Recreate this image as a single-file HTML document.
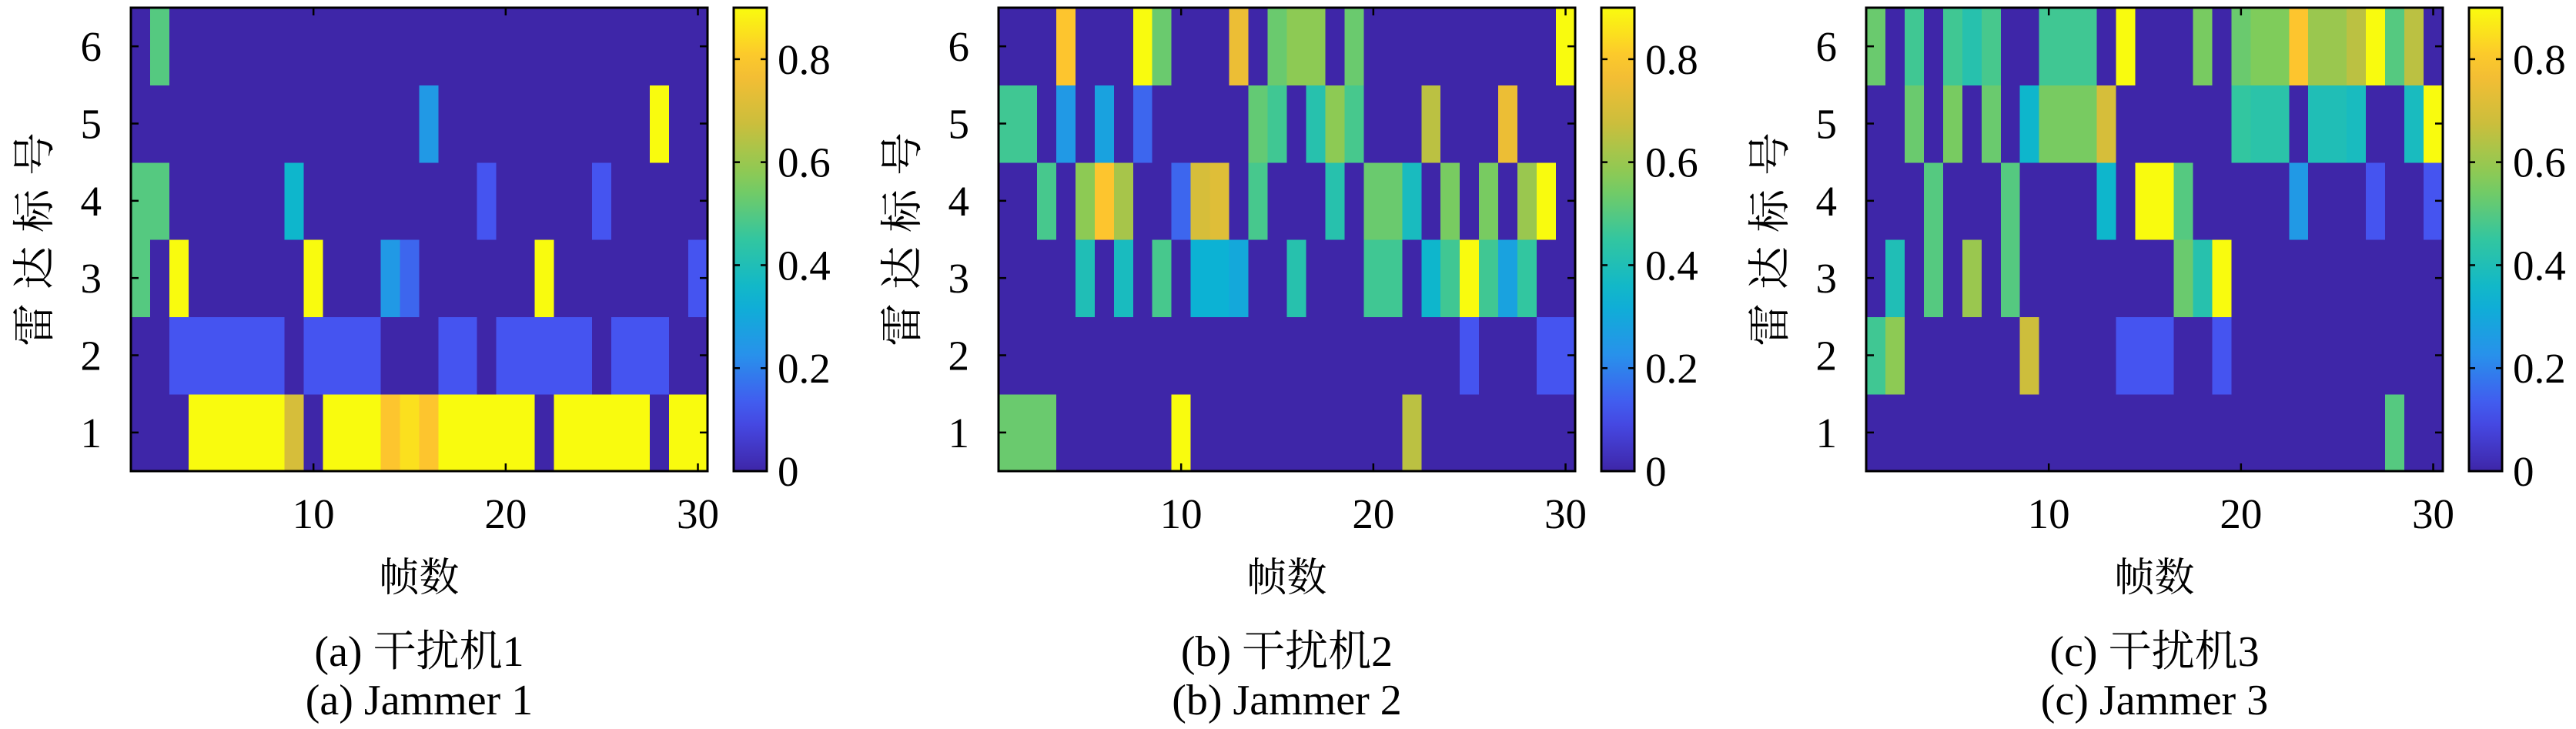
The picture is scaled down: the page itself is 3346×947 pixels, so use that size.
<!DOCTYPE html>
<html><head><meta charset="utf-8"><style>
html,body{margin:0;padding:0;background:#fff;}
svg{display:block;}
text{font-family:"Liberation Serif","Noto Serif CJK SC","Noto Sans CJK SC",serif;fill:#000;}
</style></head>
<body>
<svg id="fig" width="3346" height="947" viewBox="0 0 3346 947" xmlns="http://www.w3.org/2000/svg"></svg>
<script>
// Data: rows are radar 1..6 (bottom to top), 30 frames each
const frames = [1,2,3,4,5,6,7,8,9,10,11,12,13,14,15,16,17,18,19,20,21,22,23,24,25,26,27,28,29,30];
const radars = [1,2,3,4,5,6];
const xTicks = [10,20,30];
const yTicks = [1,2,3,4,5,6];
const cbTicks = [0,0.2,0.4,0.6,0.8];
const cbTickLabels = ["0","0.2","0.4","0.6","0.8"];
const colorMin = 0, colorMax = 0.9;
const captionsCN = ["(a) 干扰机1","(b) 干扰机2","(c) 干扰机3"];
const captionsEN = ["(a) Jammer 1","(b) Jammer 2","(c) Jammer 3"];

const jammer1 = [
[0,0,0,.9,.9,.9,.9,.9,.7,0,.9,.9,.9,.8,.85,.8,.9,.9,.9,.9,.9,0,.9,.9,.9,.9,.9,0,.9,.9],
[0,0,.12,.12,.12,.12,.12,.12,0,.12,.12,.12,.12,0,0,0,.12,.12,0,.12,.12,.12,.12,.12,0,.12,.12,.12,0,0],
[.5,0,.9,0,0,0,0,0,0,.9,0,0,0,.25,.15,0,0,0,0,0,0,.9,0,0,0,0,0,0,0,.12],
[.5,.5,0,0,0,0,0,0,.35,0,0,0,0,0,0,0,0,0,.12,0,0,0,0,0,.12,0,0,0,0,0],
[0,0,0,0,0,0,0,0,0,0,0,0,0,0,0,.25,0,0,0,0,0,0,0,0,0,0,0,.9,0,0],
[0,.5,0,0,0,0,0,0,0,0,0,0,0,0,0,0,0,0,0,0,0,0,0,0,0,0,0,0,0,0]
];
const jammer2 = [
[.53,.53,.53,0,0,0,0,0,0,.9,0,0,0,0,0,0,0,0,0,0,0,.65,0,0,0,0,0,0,0,0],
[0,0,0,0,0,0,0,0,0,0,0,0,0,0,0,0,0,0,0,0,0,0,0,0,.12,0,0,0,.12,.12],
[0,0,0,0,.4,0,.38,0,.48,0,.33,.33,.3,0,0,.42,0,0,0,.47,.47,0,.35,.47,.9,.47,.28,.45,0,0],
[0,0,.48,0,.58,.8,.62,0,0,.15,.7,.72,0,.48,0,0,0,.42,0,.53,.53,.38,0,.55,0,.55,0,.6,.9,0],
[.47,.47,0,.25,0,.28,0,.15,0,0,0,0,0,.52,.47,0,.42,.58,.48,0,0,0,.65,0,0,0,.75,0,0,0],
[0,0,0,.8,0,0,0,.9,.53,0,0,0,.75,0,.53,.58,.58,0,.53,0,0,0,0,0,0,0,0,0,0,.9]
];
const jammer3 = [
[0,0,0,0,0,0,0,0,0,0,0,0,0,0,0,0,0,0,0,0,0,0,0,0,0,0,0,.5,0,0],
[.47,.58,0,0,0,0,0,0,.68,0,0,0,0,.12,.12,.12,0,0,.12,0,0,0,0,0,0,0,0,0,0,0],
[0,.4,0,.5,0,.6,0,.5,0,0,0,0,0,0,0,0,.53,.42,.9,0,0,0,0,0,0,0,0,0,0,0],
[0,0,0,.5,0,0,0,.5,0,0,0,0,.35,0,.9,.9,.5,0,0,0,0,0,.25,0,0,0,.12,0,0,.12],
[0,0,.53,0,.55,0,.53,0,.35,.55,.55,.55,.7,0,0,0,0,0,0,.45,.43,.43,0,.4,.4,.38,0,0,.38,.9],
[.53,0,.47,0,.47,.42,.48,0,0,.47,.47,.47,0,.9,0,0,0,.55,0,.53,.56,.56,.8,.6,.6,.65,.9,.5,.65,0]
];
const panelsData = [jammer1, jammer2, jammer3];

// parula colormap
const parula = [
[0,[62,38,168]],[0.125,[71,80,240]],[0.25,[40,145,235]],[0.375,[10,180,210]],
[0.5,[50,198,160]],[0.625,[129,204,89]],[0.75,[203,190,60]],[0.875,[253,190,50]],[1,[249,251,14]]
];
function cmap(t){
  t=Math.max(0,Math.min(1,t));
  for(let i=1;i<parula.length;i++){
    if(t<=parula[i][0]){
      const a=parula[i-1],b=parula[i],f=(t-a[0])/(b[0]-a[0]);
      const c=a[1].map((v,k)=>Math.round(v+(b[1][k]-v)*f));
      return `rgb(${c[0]},${c[1]},${c[2]})`;
    }
  }
  return 'rgb(249,251,14)';
}
const NS='http://www.w3.org/2000/svg';
const svg=document.getElementById('fig');
function mk(tag,attrs,parent){const e=document.createElementNS(NS,tag);for(const k in attrs)e.setAttribute(k,attrs[k]);(parent||svg).appendChild(e);return e;}

const AX_L=170, AX_W=749, AX_T=10, AX_B=612, PANEL_DX=1127, CB_DX=783, CB_W=43;
const FS=55;
for(let p=0;p<3;p++){
  const ox=p*PANEL_DX;
  const g=mk('g',{});
  
  
  const x0=AX_L+ox, x1=x0+AX_W;
  const xScale=v=>x0+(v-0.5)/30*AX_W;
  const yScale=v=>AX_B-(v-0.5)/6*(AX_B-AX_T);
  const data=panelsData[p];
  const cells=mk('g',{'shape-rendering':'crispEdges'},g);
  
  
  radars.forEach((r,ri)=>{
    frames.forEach((f,fi)=>{
      const v=data[ri][fi];
      const xa=xScale(f-0.5), xb=xScale(f+0.5), ya=yScale(r+0.5), yb=yScale(r-0.5);
      const rc=mk('rect',{x:xa,y:ya,width:xb-xa+0.6,height:yb-ya+0.6,fill:cmap((v-colorMin)/(colorMax-colorMin))},cells);
      
      
    });
  });
  const frame=mk('rect',{x:x0,y:AX_T,width:AX_W,height:AX_B-AX_T,fill:'none',stroke:'#000','stroke-width':3},g);
  
  
  xTicks.forEach(t=>{
    const x=xScale(t);
    mk('line',{x1:x,y1:AX_B,x2:x,y2:AX_B-10,stroke:'#000','stroke-width':2.5},g);
    mk('line',{x1:x,y1:AX_T,x2:x,y2:AX_T+10,stroke:'#000','stroke-width':2.5},g);
    const tx=mk('text',{x:x,y:686,'font-size':FS,'text-anchor':'middle'},g);
    tx.textContent=t;
    
    
  });
  yTicks.forEach(t=>{
    const y=yScale(t);
    mk('line',{x1:x0,y1:y,x2:x0+10,y2:y,stroke:'#000','stroke-width':2.5},g);
    mk('line',{x1:x1,y1:y,x2:x1-10,y2:y,stroke:'#000','stroke-width':2.5},g);
    const ty=mk('text',{x:x0-38,y:y+19,'font-size':FS,'text-anchor':'end'},g);
    ty.textContent=t;
    
    
  });
  const yl=mk('text',{x:9,y:0,'font-size':56,'letter-spacing':18,'text-anchor':'middle',transform:`translate(${x0-106},${(AX_T+AX_B)/2}) rotate(-90)`},g);
  yl.textContent='雷达标号';
  
  
  const xl=mk('text',{x:(x0+x1)/2,y:768,'font-size':52,'text-anchor':'middle'},g);
  xl.textContent='帧数';
  
  
  const c1=mk('text',{x:(x0+x1)/2,y:865,'font-size':56,'text-anchor':'middle'},g);
  c1.textContent=captionsCN[p];
  
  
  const c2=mk('text',{x:(x0+x1)/2,y:928,'font-size':56,'text-anchor':'middle'},g);
  c2.textContent=captionsEN[p];
  
  
  // colorbar
  const cx=x0+CB_DX;
  const gid='grad'+p;
  const defs=mk('defs',{},g);
  const lg=mk('linearGradient',{id:gid,x1:0,y1:1,x2:0,y2:0},defs);
  for(let i=0;i<=20;i++){mk('stop',{offset:i/20,'stop-color':cmap(i/20)},lg);}
  const cb=mk('rect',{x:cx,y:AX_T,width:CB_W,height:AX_B-AX_T,fill:`url(#${gid})`,stroke:'#000','stroke-width':3},g);
  
  
  const cScale=v=>AX_B-(v-colorMin)/(colorMax-colorMin)*(AX_B-AX_T);
  cbTicks.forEach((t,i)=>{
    const y=cScale(t);
    mk('line',{x1:cx,y1:y,x2:cx+8,y2:y,stroke:'#000','stroke-width':2.5},g);
    mk('line',{x1:cx+CB_W,y1:y,x2:cx+CB_W-8,y2:y,stroke:'#000','stroke-width':2.5},g);
    const tl=mk('text',{x:cx+CB_W+14,y:y+19,'font-size':FS},g);
    tl.textContent=cbTickLabels[i];
    
    
  });
}
</script>
</body></html>
